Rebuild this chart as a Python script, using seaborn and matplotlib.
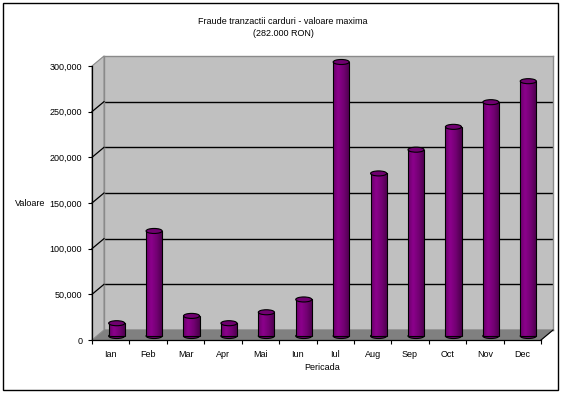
import numpy as np
import pandas as pd
import matplotlib
matplotlib.use("Agg")
import matplotlib.pyplot as plt
import seaborn as sns
from matplotlib.patches import Polygon, Rectangle, Ellipse
from matplotlib.lines import Line2D
from matplotlib.transforms import ScaledTranslation
from matplotlib.colors import LinearSegmentedColormap

# ---------------- data ----------------
months = ["Ian", "Feb", "Mar", "Apr", "Mai", "Iun", "Iul", "Aug", "Sep", "Oct", "Nov", "Dec"]
values = [14000, 115000, 22000, 14000, 26000, 40000, 300000, 178000, 204000, 229000, 256000, 279000]
y_ticks = [0, 50000, 100000, 150000, 200000, 250000, 300000]
title_lines = ["Fraude tranzactii carduri - valoare maxima", "(282.000 RON)"]
x_title = "Pericada"
y_title = "Valoare"

df = pd.DataFrame({"Luna": months, "Valoare": values})

plt.rcParams["font.family"] = ["Liberation Sans", "DejaVu Sans"]
plt.rcParams["font.size"] = 6.5

W, H, DPI = 564, 394, 100
fig = plt.figure(figsize=(W / DPI, H / DPI), dpi=DPI)
fig.patch.set_facecolor("white")

def fx(px):
    return px / W

def fy(py):
    return (H - py) / H

# front plane of plot (pixels, top-origin)
FL, FR, FT, FB = 92, 541, 66, 340
DX, DY = 12, 10  # depth offset

# back wall axes
axb = fig.add_axes([fx(FL + DX), fy(FB - DY), (FR - FL) / W, (FB - FT) / H])
axb.set_zorder(0)
axb.set_facecolor("#C0C0C0")
axb.set_ylim(0, 300000)
axb.set_xlim(0, 1)
axb.set_xticks([])
axb.set_yticks([])
for v in y_ticks[1:-1]:
    axb.axhline(v, color="black", lw=1.0)
for s in axb.spines.values():
    s.set_color("#8a8a8a")
    s.set_linewidth(1.0)

# front axes
ax = fig.add_axes([fx(FL), fy(FB), (FR - FL) / W, (FB - FT) / H])
ax.set_zorder(1)
ax.patch.set_alpha(0)

sns.barplot(data=df, x="Luna", y="Valoare", color="#800080", width=0.43,
            edgecolor="black", linewidth=0.8, ax=ax, zorder=2.2)

mid = ScaledTranslation(6 / DPI, 4 / DPI, fig.dpi_scale_trans)
tr = ax.transData + mid
cm = LinearSegmentedColormap.from_list(
    "cyl", [(0.0, "#6a006a"), (0.3, "#8c008c"), (0.65, "#720072"), (1.0, "#4a004a")])
grad = np.linspace(0, 1, 64).reshape(1, -1)
eh = 5500
bars = list(ax.patches)
for p in bars:
    p.set_transform(tr)
    p.set_clip_on(False)
    x, w, h = p.get_x(), p.get_width(), p.get_height()
    im = ax.imshow(grad, cmap=cm, extent=(x, x + w, 0, h), aspect="auto",
                   interpolation="bilinear", zorder=2.1)
    im.set_transform(tr)
    im.set_clip_box(None)
    im.set_clip_path(p)
    p.set_facecolor("none")
    p.set_zorder(2.2)
    e1 = Ellipse((x + w / 2, 0), w, eh, transform=tr, fc="#6a006a",
                 ec="black", lw=0.8, zorder=2.0, clip_on=False)
    e2 = Ellipse((x + w / 2, h), w, eh, transform=tr, fc="#700070",
                 ec="black", lw=0.8, zorder=2.3, clip_on=False)
    ax.add_patch(e1)
    ax.add_patch(e2)

ax.set_xlim(-0.5, len(months) - 0.5)
ax.set_ylim(0, 300000)
ax.set_yticks(y_ticks)
ax.set_yticklabels([f"{v:,}" for v in y_ticks])
ax.set_xticks(np.arange(-0.5, len(months), 1.0))
ax.set_xticklabels([])
ax.set_xticks(np.arange(len(months)), minor=True)
ax.set_xticklabels(months, minor=True)
ax.tick_params(axis="x", which="major", length=3, width=0.8, color="black", direction="out")
ax.tick_params(axis="x", which="minor", length=0, pad=7)
ax.tick_params(axis="y", length=3, width=0.8, direction="out", pad=4)
for s in ["top", "right"]:
    ax.spines[s].set_visible(False)
for s in ["left", "bottom"]:
    ax.spines[s].set_color("black")
    ax.spines[s].set_linewidth(0.9)
ax.set_xlabel(x_title)
ax.xaxis.set_label_coords(0.512, -0.085)
ax.set_ylabel(y_title, rotation=0, ha="right", va="center")
ax.yaxis.set_label_coords(-0.105, 0.5)

# floor and left wall (figure-level, between back wall and front axes)
floor = Polygon([(fx(FL), fy(FB)), (fx(FR), fy(FB)), (fx(FR + DX), fy(FB - DY)),
                 (fx(FL + DX), fy(FB - DY))], closed=True, transform=fig.transFigure,
                fc="#808080", ec="#808080", lw=0.8, zorder=0.5)
fig.patches.append(floor)
lwall = Polygon([(fx(FL), fy(FT)), (fx(FL + DX), fy(FT - DY)), (fx(FL + DX), fy(FB - DY)),
                 (fx(FL), fy(FB))], closed=True, transform=fig.transFigure,
                fc="#C0C0C0", ec="#8a8a8a", lw=0.8, zorder=0.5)
fig.patches.append(lwall)
fig.lines.append(Line2D([fx(FR), fx(FR + DX)], [fy(FB), fy(FB - DY)],
                        transform=fig.transFigure, color="black", lw=0.8, zorder=0.6))
for v in y_ticks[1:-1]:
    yy = FB - v / 300000 * (FB - FT)
    fig.lines.append(Line2D([fx(FL), fx(FL + DX)], [fy(yy), fy(yy - DY)],
                            transform=fig.transFigure, color="black", lw=0.9, zorder=0.6))

# title
fig.text(fx(283), fy(21), title_lines[0], ha="center", va="center", fontsize=6.5)
fig.text(fx(283), fy(33), title_lines[1], ha="center", va="center", fontsize=6.5)

# outer border
fig.patches.append(Rectangle((fx(3), fy(390)), (558 - 3) / W, (390 - 3) / H,
                             transform=fig.transFigure, fill=False, ec="black", lw=1.0, zorder=5))

fig.savefig("out.png", dpi=DPI)
